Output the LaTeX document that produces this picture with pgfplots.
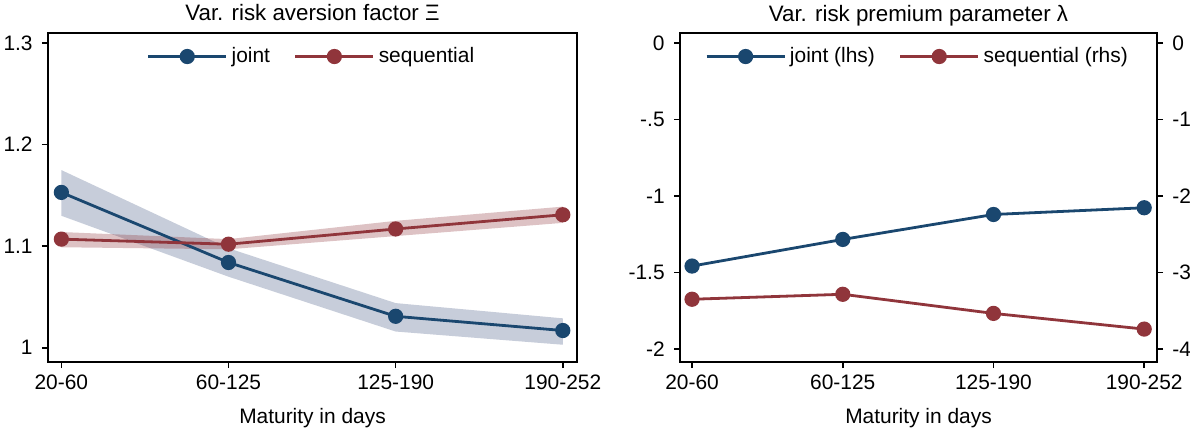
\documentclass[border=0pt]{standalone}
\usepackage{pgfplots}
\pgfplotsset{compat=1.18}
\usepackage{fontspec}
\setmainfont{Liberation Sans}
\definecolor{stnavy}{HTML}{1A476F}
\definecolor{stmaroon}{HTML}{90353B}
\definecolor{navyband}{HTML}{C7CDDA}

\pgfplotsset{
  every axis title shift=0pt,
  stata/.style={
    scale only axis, height=164.5bp,
    axis line style={line width=0.9bp},
    xmin=-0.08, xmax=3.085,
    xtick={0,1,2,3}, xticklabels={20-60,60-125,125-190,190-252},
    tick align=outside, major tick length=3bp,
    tick style={line width=0.8bp, black},
    xtick pos=bottom,
    xlabel={Maturity in days},
    xlabel style={at={(0.5,0)}, anchor=base, yshift=-30.5bp},
    title style={at={(0.5,1)}, anchor=base, yshift=6bp, font=\fontsize{11.2}{13}\selectfont},
    yticklabel style={xshift=-1bp},
    legend style={draw=none, fill=none, at={(0.5,1)}, anchor=north, yshift=-3bp,
      legend columns=-1, /tikz/every even column/.append style={column sep=10bp}},
    legend image code/.code={\draw[mark repeat=2, mark phase=2, #1]
      plot coordinates {(0bp,0bp) (19.5bp,0bp) (39bp,0bp)};},
  },
  jline/.style={stnavy, line width=1.4bp, mark=*, mark size=3.1bp, mark options={solid, fill=stnavy}},
  sline/.style={stmaroon, line width=1.4bp, mark=*, mark size=3.1bp, mark options={solid, fill=stmaroon}},
}

\begin{document}
\fontsize{10.5}{12.5}\selectfont
\begin{tikzpicture}
\useasboundingbox (0,0) rectangle (595bp,216bp);

% left panel
\begin{axis}[stata, at={(24bp,35bp)}, anchor=south west, width=264.5bp,
  ymin=0.986, ymax=1.31,
  ytick={1,1.1,1.2,1.3}, yticklabels={1,1.1,1.2,1.3}, ytick pos=left,
  title={Var. risk aversion factor Ξ}]
\addplot[draw=none, fill=navyband, forget plot]
  coordinates {(0,1.175) (1,1.098) (2,1.044) (3,1.029) (3,1.003) (2,1.016) (1,1.070) (0,1.130)} -- cycle;
\addplot[draw=none, fill=stmaroon, fill opacity=0.3, forget plot]
  coordinates {(0,1.114) (1,1.107) (2,1.125) (3,1.139) (3,1.123) (2,1.110) (1,1.097) (0,1.099)} -- cycle;
\addplot[jline] coordinates {(0,1.153) (1,1.084) (2,1.031) (3,1.017)};
\addlegendentry{joint}
\addplot[sline] coordinates {(0,1.107) (1,1.102) (2,1.117) (3,1.131)};
\addlegendentry{sequential}
\end{axis}

% right panel, left scale
\begin{axis}[stata, at={(340bp,35bp)}, anchor=south west, width=238.5bp,
  ymin=-2.085, ymax=0.065,
  ytick={0,-0.5,-1,-1.5,-2}, yticklabels={0,-.5,-1,-1.5,-2}, ytick pos=left,
  title={Var. risk premium parameter λ}]
\addplot[jline] coordinates {(0,-1.458) (1,-1.284) (2,-1.121) (3,-1.077)};
\addlegendentry{joint (lhs)}
\addlegendimage{sline}
\addlegendentry{sequential (rhs)}
\end{axis}

% right panel, right scale
\begin{axis}[scale only axis, at={(340bp,35bp)}, anchor=south west, width=238.5bp, height=164.5bp,
  xmin=-0.08, xmax=3.085, ymin=-4.17, ymax=0.13,
  axis x line=none, axis y line*=right,
  axis line style={line width=0.9bp},
  tick align=outside, major tick length=3bp,
  tick style={line width=0.8bp, black},
  ytick={0,-1,-2,-3,-4}, yticklabels={0,-1,-2,-3,-4},
  yticklabel style={xshift=1bp}]
\addplot[sline] coordinates {(0,-3.35) (1,-3.285) (2,-3.535) (3,-3.74)};
\end{axis}
\end{tikzpicture}
\end{document}
